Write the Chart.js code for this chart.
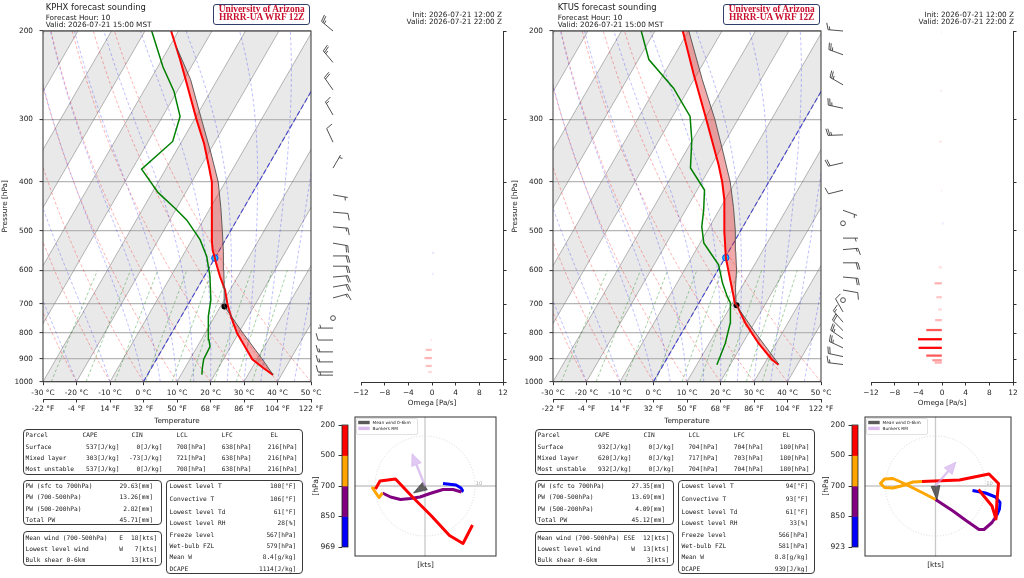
<!DOCTYPE html>
<html><head><meta charset="utf-8">
<script src="https://cdn.jsdelivr.net/npm/chart.js@4.4.1/dist/chart.umd.min.js"></script>
<style>
html,body{margin:0;padding:0;background:#fff}
body{width:1024px;height:578px;position:relative;overflow:hidden;font-family:'DejaVu Sans',sans-serif;color:#222}
canvas{position:absolute}
.t{position:absolute;white-space:pre;line-height:1;filter:grayscale(1)}
.m{font-family:'DejaVu Sans Mono',monospace;font-size:6.2px;color:#1a1a1a}
.bx{position:absolute;border:1.2px solid #3a3a3a;border-radius:4px;box-sizing:border-box}
.ua{position:absolute;border:1.5px solid #2e3f68;border-radius:3px;box-sizing:border-box;background:#fff;font-family:'Liberation Serif',serif;font-weight:bold;color:#c8102e;font-size:9.4px;text-align:center;line-height:8.3px;white-space:pre}
</style></head><body>
<script>
// ================= DATA =================
const PRESSURE_TICKS=[200,300,400,500,600,700,800,900,1000];
const FAHRENHEIT_TICKS=[-22,-4,14,32,50,68,86,104,122];
const HODO_COLORS=['#ff0000','#ffa500','#800080','#0000ff'];
const PARCEL_HEADER=['Parcel','CAPE','CIN','LCL','LFC','EL'];
const UA_LINES=['University of Arizona','HRRR-UA WRF 12Z'];

// ---- KPHX ----
const phxTitle=['KPHX forecast sounding','Forecast Hour: 10','Valid: 2026-07-21 15:00 MST'];
const phxInit=['Init: 2026-07-21 12:00 Z','Valid: 2026-07-21 22:00 Z'];
const phxTempP=[969,939,902,851,802,764,730,702,656,617,580,568,546,521,476,434,400,373,335,300,254,228,200];
const phxTemp=[37.5,33.4,28.6,24.2,19.7,16.7,14.0,11.8,8.5,4.7,1.2,0.1,-2.1,-4.1,-7.5,-10.9,-14.0,-17.5,-23.0,-29.4,-38.6,-44.6,-52.2];
const phxDewP=[968,939,902,851,825,741,687,617,563,521,476,451,420,377,332,296,264,236,200];
const phxDew=[16.2,15.2,14.1,13.8,12.3,8.1,6.0,1.7,-2.7,-7.6,-15.0,-20.5,-28.2,-37.2,-32.7,-34.8,-40.9,-48.4,-58.0];
const phxParcelP=[969,900,800,708,650,600,550,500,450,400,350,300,250,216];
const phxParcel=[37.5,31.4,21.3,11.2,7.9,4.8,1.4,-2.5,-6.9,-12.1,-19.3,-27.9,-38.0,-47.6];
const phxLcl=[708,11.2];
const phxFreeze=[567,0.0];
const phxBarbP=[200,231,262,294,333,375,424,459,491,529,561,588,618,647,680,746,781,825,871,912,955,969];
const phxBarbDir=[310,320,325,330,335,30,100,95,95,100,90,90,85,80,75,0,270,270,270,270,270,270];
const phxBarbSpd=[25,25,20,15,10,5,5,10,15,20,20,20,20,20,15,0,5,10,15,15,10,5];
const phxOmegaP=[553,609,825,863,896,929,955];
const phxOmega=[0.3,0.2,-0.2,-1.0,-1.2,-1.0,-0.6];
const phxHodoRed=[[-9.9,-0.6],[-9.0,1.0],[-5.9,1.4],[-2.5,-2.2],[1.2,-5.9],[4.9,-9.9],[7.6,-11.5],[9.5,-7.8]];
const phxHodoOrange=[[-8.5,-1.4],[-9.2,-2.3],[-10.5,-0.4],[-9.9,-0.6]];
const phxHodoPurple=[[7.3,-1.2],[5.6,-0.7],[3.6,-0.7],[1.0,-1.5],[-1.0,-2.2],[-2.9,-2.5],[-4.9,-2.7],[-6.9,-2.2],[-8.5,-1.4]];
const phxHodoBlue=[[3.6,0.5],[6.2,0.2],[7.2,-0.4],[7.5,-0.9],[7.3,-1.2]];
const phxMeanWind=[-2.3,-1.4];
const phxBunkers=[-2.6,6.5];
const phxHodoLevels=['200','500','700','850','969'];
const phxHodoXLim=[-14.1,14.3];
const phxParcelRows=[['Surface','537[J/kg]','0[J/kg]','708[hPa]','638[hPa]','216[hPa]'],['Mixed layer','303[J/kg]','-73[J/kg]','721[hPa]','638[hPa]','216[hPa]'],['Most unstable','537[J/kg]','0[J/kg]','708[hPa]','638[hPa]','216[hPa]']];
const phxPW=[['PW (sfc to 700hPa)','29.63[mm]'],['PW (700-500hPa)','13.26[mm]'],['PW (500-200hPa)','2.82[mm]'],['Total PW','45.71[mm]']];
const phxWind=[['Mean wind (700-500hPa)','E','18[kts]'],['Lowest level wind','W','7[kts]'],['Bulk shear 0-6km','','13[kts]']];
const phxMisc=[['Lowest level T','100[°F]'],['Convective T','106[°F]'],['Lowest level Td','61[°F]'],['Lowest level RH','28[%]'],['Freeze level','567[hPa]'],['Wet-bulb FZL','579[hPa]'],['Mean W','8.4[g/kg]'],['DCAPE','1114[J/kg]']];

// ---- KTUS ----
const tusTitle=['KTUS forecast sounding','Forecast Hour: 10','Valid: 2026-07-21 15:00 MST'];
const tusInit=['Init: 2026-07-21 12:00 Z','Valid: 2026-07-21 22:00 Z'];
const tusTempP=[925,904,838,764,706,697,676,626,567,506,434,400,370,296,243,200];
const tusTemp=[34.4,31.6,24.7,17.3,11.9,10.7,9.2,5.3,0.3,-4.4,-10.2,-13.9,-17.9,-30.2,-41.2,-51.7];
const tusDewP=[925,838,764,697,676,636,585,559,529,491,455,415,375,330,296,260,228,200];
const tusDew=[16.0,14.8,12.8,9.4,7.3,3.6,-0.7,-4.4,-8.9,-12.3,-14.6,-17.8,-25.8,-30.2,-34.8,-44.6,-56.9,-64.1];
const tusParcelP=[923,850,800,704,650,600,550,500,450,400,350,300,250,200,180];
const tusParcel=[34.4,27.3,22.1,11.5,8.3,5.6,2.1,-1.6,-6.1,-11.5,-18.6,-26.9,-37.5,-49.9,-55.0];
const tusLcl=[704,11.6];
const tusFreeze=[566,0.2];
const tusBarbP=[200,223,256,285,322,366,415,455,483,517,545,579,618,656,687,725,760,790,820,855,890,923];
const tusBarbDir=[275,290,300,282,268,257,256,110,0,90,85,90,95,100,0,330,320,315,305,295,282,277];
const tusBarbSpd=[15,25,25,25,25,20,10,5,0,5,15,20,20,10,0,10,15,20,25,25,20,15];
const tusOmegaP=[201,263,332,416,483,591,636,678,717,753,788,822,855,886,905,915];
const tusOmega=[-0.1,-0.2,-0.4,-0.1,0.2,-0.5,-1.2,-0.9,-0.6,-1.1,-2.6,-4.0,-3.9,-2.6,-1.6,-1.2];
const tusHodoRed=[[-2.7,0.9],[4.8,1.2],[10.7,2.4],[12.6,0.5],[12.3,-2.7],[12.1,-6.6],[11.3,-4.0],[8.6,-0.7]];
const tusHodoOrange=[[0,-2.7],[-2.5,-1.4],[-4.5,-0.4],[-6.5,0.6],[-8.5,1.5],[-10.2,1.4],[-11.0,0.5],[-10.2,-0.3],[-8.5,-0.4],[-6.5,0.1],[-4.5,0.8],[-2.7,0.9]];
const tusHodoPurple=[[12.3,-5.8],[11.3,-7.3],[9.7,-8.7],[8.7,-8.7],[6.1,-6.9],[3.5,-5.0],[0,-2.7]];
const tusHodoBlue=[[7.4,-0.9],[10.0,-1.4],[12.0,-2.2],[12.9,-3.3],[12.8,-4.6],[12.3,-5.8]];
const tusMeanWind=[0.3,-2.8];
const tusBunkers=[4.1,4.8];
const tusHodoLevels=['200','500','700','850','923'];
const tusHodoXLim=[-14.2,15.2];
const tusParcelRows=[['Surface','932[J/kg]','0[J/kg]','704[hPa]','704[hPa]','180[hPa]'],['Mixed layer','620[J/kg]','0[J/kg]','717[hPa]','703[hPa]','180[hPa]'],['Most unstable','932[J/kg]','0[J/kg]','704[hPa]','704[hPa]','180[hPa]']];
const tusPW=[['PW (sfc to 700hPa)','27.35[mm]'],['PW (700-500hPa)','13.69[mm]'],['PW (500-200hPa)','4.09[mm]'],['Total PW','45.12[mm]']];
const tusWind=[['Mean wind (700-500hPa)','ESE','12[kts]'],['Lowest level wind','W','13[kts]'],['Bulk shear 0-6km','','3[kts]']];
const tusMisc=[['Lowest level T','94[°F]'],['Convective T','93[°F]'],['Lowest level Td','61[°F]'],['Lowest level RH','33[%]'],['Freeze level','566[hPa]'],['Wet-bulb FZL','581[hPa]'],['Mean W','8.8[g/kg]'],['DCAPE','939[J/kg]']];
const HODO_Y_LIM=[-14.1,13.9];

// ================= HELPERS =================
Chart.defaults.font.family="'DejaVu Sans', sans-serif";
Chart.defaults.font.size=7.3;
Chart.defaults.color='#222';

function mkCanvas(x,y,w,h){const c=document.createElement('canvas');c.width=w;c.height=h;c.style.left=x+'px';c.style.top=y+'px';c.style.width=w+'px';c.style.height=h+'px';document.body.appendChild(c);return c;}
function txt(x,y,s,size,opts){opts=opts||{};const d=document.createElement('div');d.className='t'+(opts.cls?' '+opts.cls:'');d.textContent=s;d.style.left=x+'px';d.style.top=y+'px';if(size)d.style.fontSize=size+'px';const tx=opts.align==='right'?'-100%':opts.align==='center'?'-50%':'0';d.style.transform='translate('+tx+',-50%)';if(opts.color)d.style.color=opts.color;document.body.appendChild(d);return d;}
function box(x0,y0,x1,y1){const d=document.createElement('div');d.className='bx';d.style.left=x0+'px';d.style.top=y0+'px';d.style.width=(x1-x0)+'px';d.style.height=(y1-y0)+'px';document.body.appendChild(d);}

const Rd=287.04,Cpd=1005.7,Lv=2.501e6,EPS=0.622;
const BG_P=[];for(let i=0;i<=80;i++)BG_P.push(1000*Math.pow(0.2,i/80));
function lapse(T,p){const es=6.112*Math.exp(17.67*(T-273.15)/(T-29.65));const rs=EPS*es/(p-es);return (Rd*T+Lv*rs)/(Cpd+Lv*Lv*rs*EPS/(Rd*T*T));}
function moistCurve(T0){let T=T0+273.15;const out=[[T0,1000]];for(let i=1;i<BG_P.length;i++){const l0=Math.log(BG_P[i-1]),l1=Math.log(BG_P[i]);const n=4,h=(l1-l0)/n;let l=l0;for(let k=0;k<n;k++){const f=(t,ll)=>lapse(t,Math.exp(ll));const k1=f(T,l),k2=f(T+h*k1/2,l+h/2),k3=f(T+h*k2/2,l+h/2),k4=f(T+h*k3,l+h);T+=h*(k1+2*k2+2*k3+k4)/6;l+=h;}out.push([T-273.15,BG_P[i]]);}return out;}
function interpT(P,T,p){for(let i=0;i<P.length-1;i++){const a=P[i],b=P[i+1];if(p<=a&&p>=b){const f=Math.log(a/p)/Math.log(a/b);return T[i]+f*(T[i+1]-T[i]);}}return null;}
function pix(ch,T,p){return [ch.scales.x.getPixelForValue(T+ch.$K*Math.log(1000/p)),ch.scales.y.getPixelForValue(p)];}
function strokeCurve(ctx,ch,pts){ctx.beginPath();pts.forEach((q,i)=>{const [X,Y]=pix(ch,q[0],q[1]);i?ctx.lineTo(X,Y):ctx.moveTo(X,Y);});ctx.stroke();}

const skewPlugin={id:'skewBg',
 beforeDraw(ch){if(!ch.$K)return;const {ctx,chartArea:a}=ch;ctx.save();ctx.beginPath();ctx.rect(a.left,a.top,a.width,a.height);ctx.clip();
   ctx.fillStyle='#e9e9e9';
   for(let t=-130;t<=50;t+=20){const c=[pix(ch,t,1000),pix(ch,t+10,1000),pix(ch,t+10,200),pix(ch,t,200)];ctx.beginPath();c.forEach((q,i)=>i?ctx.lineTo(q[0],q[1]):ctx.moveTo(q[0],q[1]));ctx.closePath();ctx.fill();}
   ctx.restore();},
 beforeDatasetsDraw(ch){if(!ch.$K||!ch.$st)return;const {ctx,chartArea:a}=ch;const st=ch.$st;ctx.save();ctx.beginPath();ctx.rect(a.left,a.top,a.width,a.height);ctx.clip();
   ctx.strokeStyle='rgba(110,110,110,0.55)';ctx.lineWidth=0.9;ctx.setLineDash([]);
   for(let t=-130;t<=60;t+=10)strokeCurve(ctx,ch,[[t,1000],[t,200]]);
   ctx.strokeStyle='rgba(255,0,0,0.38)';ctx.lineWidth=0.8;ctx.setLineDash([3,2.2]);
   for(let t0=-30;t0<=50;t0+=10)strokeCurve(ctx,ch,BG_P.map(p=>[(t0+273.15)*Math.pow(p/1000,0.2857)-273.15,p]));
   ctx.strokeStyle='rgba(0,0,255,0.32)';
   [-30,-20,-10,0,5,10,15,20,25,30,35,40,45,50].forEach(t0=>strokeCurve(ctx,ch,moistCurve(t0)));
   ctx.strokeStyle='rgba(0,128,0,0.45)';
   [0.0004,0.001,0.002,0.004,0.007,0.01,0.016,0.024,0.032].forEach(w=>{const pts=[];for(let i=0;i<=10;i++){const p=1000-40*i;const e=p*w/(EPS+w);const L=Math.log(e/6.112);pts.push([243.5*L/(17.67-L),p]);}strokeCurve(ctx,ch,pts);});
   ctx.strokeStyle='rgba(30,30,210,0.75)';ctx.lineWidth=1.1;ctx.setLineDash([5,2.5]);strokeCurve(ctx,ch,[[0,1000],[0,200]]);
   ctx.setLineDash([]);
   const pb=Math.min(st.parP[0],st.tP[0]),pt=Math.max(st.parP[st.parP.length-1],st.tP[st.tP.length-1]);
   const N=300,rows=[];
   for(let i=0;i<=N;i++){const p=pb*Math.pow(pt/pb,i/N);const tT=interpT(st.tP,st.t,p),tp=interpT(st.parP,st.par,p);if(tT===null||tp===null)continue;const xt=pix(ch,tT,p),xp=pix(ch,tp,p);rows.push([xt[0],xp[0],xt[1]]);}
   const shade=(fn,col)=>{ctx.beginPath();rows.forEach((r,i)=>{const X=fn(r[0],r[1]);i?ctx.lineTo(X,r[2]):ctx.moveTo(X,r[2]);});for(let i=rows.length-1;i>=0;i--)ctx.lineTo(rows[i][0],rows[i][2]);ctx.closePath();ctx.fillStyle=col;ctx.fill();};
   shade(Math.max,'rgba(220,40,40,0.4)');
   shade(Math.min,'rgba(31,119,180,0.32)');
   ctx.restore();},
 afterDatasetsDraw(ch){const {ctx,chartArea:a}=ch;ctx.save();ctx.strokeStyle='#333';ctx.lineWidth=1;ctx.strokeRect(a.left,a.top,a.width,a.height);ctx.restore();}
};

function makeSkew(st,ox){
  const cv=mkCanvas(ox,0,340,427);
  const ch=new Chart(cv,{type:'scatter',
    data:{datasets:[
      {data:[],showLine:true,pointRadius:0,borderColor:'rgba(80,80,80,0.9)',borderWidth:1},
      {data:[],showLine:true,pointRadius:0,borderColor:'#ff0000',borderWidth:2},
      {data:[],showLine:true,pointRadius:0,borderColor:'#008000',borderWidth:1.5},
      {data:[],pointRadius:3,backgroundColor:'#000',borderColor:'#000',borderWidth:0},
      {data:[],pointRadius:3.2,backgroundColor:'#1ec0ff',borderColor:'#0a4cff',borderWidth:1}
    ]},
    options:{responsive:false,animation:false,events:[],
      layout:{padding:{left:0,top:31,right:29,bottom:0}},
      plugins:{legend:{display:false},tooltip:{enabled:false}},
      scales:{
        x:{type:'linear',position:'bottom',min:-30,max:50,weight:0,afterFit:s=>{s.height=17.3;},
           ticks:{stepSize:10,padding:3,autoSkip:false,maxRotation:0,font:{size:7.4},color:'#222',callback:v=>v+' °C'},
           grid:{drawOnChartArea:false,drawTicks:true,tickLength:3.5,tickColor:'#333',tickWidth:1},border:{display:false}},
        xf:{type:'linear',axis:'x',position:'bottom',min:-22,max:122,weight:1,afterFit:s=>{s.height=28;},
           afterBuildTicks:s=>{s.ticks=FAHRENHEIT_TICKS.map(v=>({value:v}));},
           ticks:{padding:2.5,autoSkip:false,maxRotation:0,font:{size:7.4},color:'#222',callback:v=>v+' °F'},
           grid:{drawOnChartArea:false,drawTicks:true,tickLength:3.5,tickColor:'#333',tickWidth:1},
           border:{display:true,color:'#333',width:1},
           title:{display:true,text:'Temperature',font:{size:7.2},color:'#222',padding:{top:0,bottom:1.7}}},
        y:{type:'logarithmic',position:'left',min:200,max:1000,reverse:true,afterFit:s=>{s.width=43;},
           afterBuildTicks:s=>{s.ticks=PRESSURE_TICKS.map(v=>({value:v}));},
           ticks:{padding:6.5,autoSkip:false,font:{size:7.3},color:'#222',callback:v=>String(v)},
           grid:{color:'#b5b5b5',lineWidth:1.2,drawTicks:true,tickLength:3.5,tickColor:'#333',tickWidth:1},border:{display:false},
           title:{display:true,text:'Pressure [hPa]',font:{size:7.3},color:'#222',padding:{top:1.2,bottom:0}}}
      }},
    plugins:[skewPlugin]});
  const a=ch.chartArea;
  const K=Math.tan(Math.PI/6)*((a.bottom-a.top)/Math.log(5))/((a.right-a.left)/80);
  ch.$K=K;ch.$st=st;
  const sk=(P,T)=>P.map((p,i)=>({x:T[i]+K*Math.log(1000/p),y:p}));
  ch.data.datasets[0].data=sk(st.parP,st.par);
  ch.data.datasets[1].data=sk(st.tP,st.t);
  ch.data.datasets[2].data=sk(st.dP,st.d);
  ch.data.datasets[3].data=sk([st.lcl[0]],[st.lcl[1]]);
  ch.data.datasets[4].data=sk([st.frz[0]],[st.frz[1]]);
  ch.update('none');
}

function drawBarb(ctx,x,y,dir,spd,L){
  let mag=5*Math.round(spd/5);
  const nf=Math.floor(mag/50);mag-=nf*50;const nb=Math.floor(mag/10);mag-=nb*10;const half=mag>=5;
  ctx.beginPath();
  if(nf===0&&nb===0&&!half){ctx.arc(x,y,0.16*L,0,2*Math.PI);ctx.stroke();return;}
  const rad=dir*Math.PI/180,u=-spd*Math.sin(rad),v=-spd*Math.cos(rad);
  const th=Math.atan2(v,u)+Math.PI/2,c=Math.cos(th),s=Math.sin(th);
  const T=(A,B)=>[x+A*c-B*s,y-(A*s+B*c)];
  const fh=0.45*L,fw=0.25*L,sp=0.125*L;
  let q=T(0,0);ctx.moveTo(q[0],q[1]);q=T(0,L);ctx.lineTo(q[0],q[1]);
  let off=L;
  for(let i=0;i<nb;i++){const A=T(0,off),B=T(fh,off+fw/2);ctx.moveTo(A[0],A[1]);ctx.lineTo(B[0],B[1]);off-=sp;}
  if(half){if(off===L)off-=1.5*sp;const A=T(0,off),B=T(fh/2,off+fw/4);ctx.moveTo(A[0],A[1]);ctx.lineTo(B[0],B[1]);}
  ctx.stroke();
}
const barbPlugin={id:'barbs',afterDatasetsDraw(ch){const st=ch.$st;if(!st)return;const {ctx,chartArea:a,scales:{y}}=ch;ctx.save();ctx.strokeStyle='#3c3c3c';ctx.lineWidth=0.9;
  st.barbP.forEach((p,i)=>drawBarb(ctx,a.left-28,y.getPixelForValue(p),st.barbDir[i],st.barbSpd[i],15));ctx.restore();}};

function makeOmega(st,ox){
  const cv=mkCanvas(ox+300,0,212,408);
  const col=w=>{const al=Math.min(1,Math.max(0.1,Math.abs(w)/4));return w<0?'rgba(255,0,0,'+al+')':'rgba(0,0,255,'+al+')';};
  const ch=new Chart(cv,{type:'bar',
    data:{datasets:[{data:st.omP.map((p,i)=>({x:st.om[i],y:p})),backgroundColor:st.om.map(col),borderWidth:0,barThickness:1.6}]},
    options:{indexAxis:'y',responsive:false,animation:false,events:[],
      layout:{padding:{left:61,top:31,right:0,bottom:0}},
      plugins:{legend:{display:false},tooltip:{enabled:false}},
      scales:{
        x:{type:'linear',position:'bottom',min:-12,max:12,afterFit:s=>{s.height=26;},
           ticks:{stepSize:4,padding:3,autoSkip:false,maxRotation:0,font:{size:7.4},color:'#222',callback:v=>v<0?'\u2212'+(-v):String(v)},
           grid:{drawOnChartArea:false,drawTicks:true,tickLength:3.5,tickColor:'#333',tickWidth:1},border:{display:true,color:'#333',width:1},
           title:{display:true,text:'Omega [Pa/s]',font:{size:7.2},color:'#222',padding:{top:0,bottom:0.7}}},
        y:{type:'logarithmic',position:'right',min:200,max:1000,reverse:true,offset:false,afterFit:s=>{s.width=9;},
           afterBuildTicks:s=>{s.ticks=PRESSURE_TICKS.map(v=>({value:v}));},
           ticks:{display:false},
           grid:{offset:false,drawOnChartArea:false,drawTicks:true,tickLength:3.5,tickColor:'#333',tickWidth:1},border:{display:true,color:'#333',width:1}}
      }},
    plugins:[barbPlugin]});
  ch.$st=st;ch.update('none');
}

function arrow(ctx,x,y,u,v,hl,hw,w){const L=Math.hypot(u,v);if(L<1e-6)return;const dx=u/L,dy=v/L,nx=-dy,ny=dx;hl=Math.min(hl,L);const s=L-hl;
  const pts=[[nx*w/2,ny*w/2],[dx*s+nx*w/2,dy*s+ny*w/2],[dx*s+nx*hw/2,dy*s+ny*hw/2],[u,v],[dx*s-nx*hw/2,dy*s-ny*hw/2],[dx*s-nx*w/2,dy*s-ny*w/2],[-nx*w/2,-ny*w/2]];
  ctx.beginPath();pts.forEach((p,i)=>{const X=x.getPixelForValue(p[0]),Y=y.getPixelForValue(p[1]);i?ctx.lineTo(X,Y):ctx.moveTo(X,Y);});ctx.closePath();ctx.fill();ctx.stroke();}
const hodoPlugin={id:'hodo',
  beforeDatasetsDraw(ch){const {ctx,chartArea:a,scales:{x,y}}=ch;ctx.save();ctx.beginPath();ctx.rect(a.left,a.top,a.width,a.height);ctx.clip();
    const x0=x.getPixelForValue(0),y0=y.getPixelForValue(0);
    ctx.strokeStyle='#c8c8c8';ctx.lineWidth=1.3;ctx.beginPath();ctx.moveTo(x0,a.top);ctx.lineTo(x0,a.bottom);ctx.moveTo(a.left,y0);ctx.lineTo(a.right,y0);ctx.stroke();
    const r=x.getPixelForValue(10)-x0;ctx.strokeStyle='#cfcfcf';ctx.lineWidth=0.8;ctx.setLineDash([1,1.8]);ctx.beginPath();ctx.arc(x0,y0,r,0,2*Math.PI);ctx.stroke();ctx.setLineDash([]);
    ctx.fillStyle='#aaa';ctx.font="5.2px 'DejaVu Sans'";ctx.textAlign='center';ctx.textBaseline='middle';ctx.fillText('10',x.getPixelForValue(10.8),y.getPixelForValue(0.5));
    ctx.restore();},
  afterDatasetsDraw(ch){const st=ch.$st;if(!st)return;const {ctx,chartArea:a,scales:{x,y}}=ch;ctx.save();ctx.beginPath();ctx.rect(a.left,a.top,a.width,a.height);ctx.clip();
    ctx.fillStyle='rgba(70,70,70,0.85)';ctx.strokeStyle='rgba(40,40,40,0.9)';ctx.lineWidth=0.6;arrow(ctx,x,y,st.mean[0],st.mean[1],3.2,1.8,0.35);
    ctx.fillStyle='rgba(205,165,235,0.6)';ctx.strokeStyle='rgba(190,150,225,0.6)';arrow(ctx,x,y,st.bunk[0],st.bunk[1],2.4,2.1,0.35);
    const lx=a.left+2,ly=a.top+2;ctx.fillStyle='rgba(255,255,255,0.85)';ctx.strokeStyle='#cccccc';ctx.lineWidth=0.6;ctx.beginPath();ctx.roundRect(lx,ly,61,16,1.5);ctx.fill();ctx.stroke();
    ctx.fillStyle='#5a5a5a';ctx.fillRect(lx+1.7,ly+2.3,11.5,3.4);ctx.fillStyle='#dcbcef';ctx.fillRect(lx+1.7,ly+8.2,11.5,3.4);
    ctx.fillStyle='#222';ctx.font="4.3px 'DejaVu Sans'";ctx.textAlign='left';ctx.textBaseline='middle';ctx.fillText('Mean wind 0-6km',lx+16,ly+4);ctx.fillText('Bunkers RM',lx+16,ly+9.9);
    ctx.restore();
    ctx.save();ctx.strokeStyle='#333';ctx.lineWidth=1;ctx.strokeRect(a.left+0.5,a.top+0.5,a.width-1,a.height-1);ctx.restore();}
};
function makeHodo(st,ox,w){
  const cv=mkCanvas(ox+353,415,w,143);
  const segs=[st.hRed,st.hOrange,st.hPurple,st.hBlue];
  const ch=new Chart(cv,{type:'scatter',
    data:{datasets:segs.map((s,i)=>({data:s.map(q=>({x:q[0],y:q[1]})),showLine:true,pointRadius:0,borderColor:HODO_COLORS[i],borderWidth:3,borderJoinStyle:'round',borderCapStyle:'butt'}))},
    options:{responsive:false,animation:false,events:[],layout:{padding:0},
      plugins:{legend:{display:false},tooltip:{enabled:false}},
      scales:{x:{type:'linear',display:false,min:st.hx[0],max:st.hx[1]},y:{type:'linear',display:false,min:HODO_Y_LIM[0],max:HODO_Y_LIM[1]}}},
    plugins:[hodoPlugin]});
  ch.$st=st;ch.update('none');
  const cb=mkCanvas(ox+305,415,45,142);
  const cbFrame={id:'cbf',afterDatasetsDraw(c){const {ctx,chartArea:a}=c;ctx.save();ctx.strokeStyle='#222';ctx.lineWidth=0.8;ctx.strokeRect(a.left,a.top,a.width,a.height);ctx.restore();}};
  new Chart(cb,{type:'bar',
    data:{labels:[''],datasets:HODO_COLORS.map(c=>({data:[1],backgroundColor:c,borderWidth:0,barPercentage:1,categoryPercentage:1}))},
    options:{responsive:false,animation:false,events:[],layout:{padding:{left:0,top:10,right:2,bottom:10}},
      plugins:{legend:{display:false},tooltip:{enabled:false}},
      scales:{x:{display:false,stacked:true},
        y:{type:'linear',stacked:true,min:0,max:4,reverse:true,position:'left',afterFit:s=>{s.width=37;},
           afterBuildTicks:s=>{s.ticks=[0,1,2,3,4].map(v=>({value:v}));},
           ticks:{padding:3.5,autoSkip:false,font:{size:7.6},color:'#222',callback:v=>st.hLevels[v]},
           grid:{drawOnChartArea:false,drawTicks:true,tickLength:3.5,tickColor:'#333'},border:{display:false},
           title:{display:true,text:'[hPa]',font:{size:7.6},color:'#222',padding:{top:6,bottom:0}}}}},
    plugins:[cbFrame]});
}

function makeText(st,ox,tx){
  txt(tx+45.7,7.3,st.title[0],8.4);
  txt(tx+45.7,17.7,st.title[1],7.3);
  txt(tx+45.7,25,st.title[2],7.3);
  txt(tx+502,15,st.init[0],7.3,{align:'right'});
  txt(tx+502,22.3,st.init[1],7.3,{align:'right'});
  const u=document.createElement('div');u.className='ua';u.style.left=(ox+213.3)+'px';u.style.top='4px';u.style.width='96.7px';u.style.height='21.4px';u.textContent=UA_LINES.join('\n');document.body.appendChild(u);
  txt(ox+st.kx,565,'[kts]',7.3,{align:'center'});
  const bx=tx-0.5;
  box(bx+23.3,429,bx+304,475);box(bx+23.3,480,bx+162.3,525);box(bx+23.3,531,bx+162.3,566);box(bx+166.7,480,bx+304,574);
  const r1=[435,446.6,458,469.4];
  const hx=[26,83,132,177,222,271];
  PARCEL_HEADER.forEach((h,i)=>txt(bx+hx[i],r1[0],h,null,{cls:'m'}));
  const vr=[0,120,163,206.7,252,298];
  st.parcels.forEach((row,r)=>{txt(bx+26,r1[r+1],row[0],null,{cls:'m'});for(let c=1;c<6;c++)txt(bx+vr[c],r1[r+1],row[c],null,{cls:'m',align:'right'});});
  const r2=[486,497.3,508.7,520];
  st.pw.forEach((row,r)=>{txt(bx+26,r2[r],row[0],null,{cls:'m'});txt(bx+153.5,r2[r],row[1],null,{cls:'m',align:'right'});});
  const r3=[537.7,548.8,560.2];
  st.wind.forEach((row,r)=>{txt(bx+26,r3[r],row[0],null,{cls:'m'});txt(bx+123.5,r3[r],row[1],null,{cls:'m',align:'right'});txt(bx+157.7,r3[r],row[2],null,{cls:'m',align:'right'});});
  const r4=[486.3,499,511.7,523.3,534.5,546,556.8,569];
  st.misc.forEach((row,r)=>{txt(bx+170,r4[r],row[0],null,{cls:'m'});txt(bx+296.7,r4[r],row[1],null,{cls:'m',align:'right'});});
}

const PHX={title:phxTitle,init:phxInit,tP:phxTempP,t:phxTemp,dP:phxDewP,d:phxDew,parP:phxParcelP,par:phxParcel,lcl:phxLcl,frz:phxFreeze,
  barbP:phxBarbP,barbDir:phxBarbDir,barbSpd:phxBarbSpd,omP:phxOmegaP,om:phxOmega,hRed:phxHodoRed,hOrange:phxHodoOrange,hPurple:phxHodoPurple,hBlue:phxHodoBlue,
  mean:phxMeanWind,bunk:phxBunkers,hLevels:phxHodoLevels,hx:phxHodoXLim,parcels:phxParcelRows,pw:phxPW,wind:phxWind,misc:phxMisc,kx:425.5};
const TUS={title:tusTitle,init:tusInit,tP:tusTempP,t:tusTemp,dP:tusDewP,d:tusDew,parP:tusParcelP,par:tusParcel,lcl:tusLcl,frz:tusFreeze,
  barbP:tusBarbP,barbDir:tusBarbDir,barbSpd:tusBarbSpd,omP:tusOmegaP,om:tusOmega,hRed:tusHodoRed,hOrange:tusHodoOrange,hPurple:tusHodoPurple,hBlue:tusHodoBlue,
  mean:tusMeanWind,bunk:tusBunkers,hLevels:tusHodoLevels,hx:tusHodoXLim,parcels:tusParcelRows,pw:tusPW,wind:tusWind,misc:tusMisc,kx:425.5};

makeSkew(PHX,0);makeOmega(PHX,0);makeHodo(PHX,0,145);makeText(PHX,0,0);
makeSkew(TUS,510);makeOmega(TUS,510);makeHodo(TUS,510,150);makeText(TUS,510,512);
</script>
</body></html>
